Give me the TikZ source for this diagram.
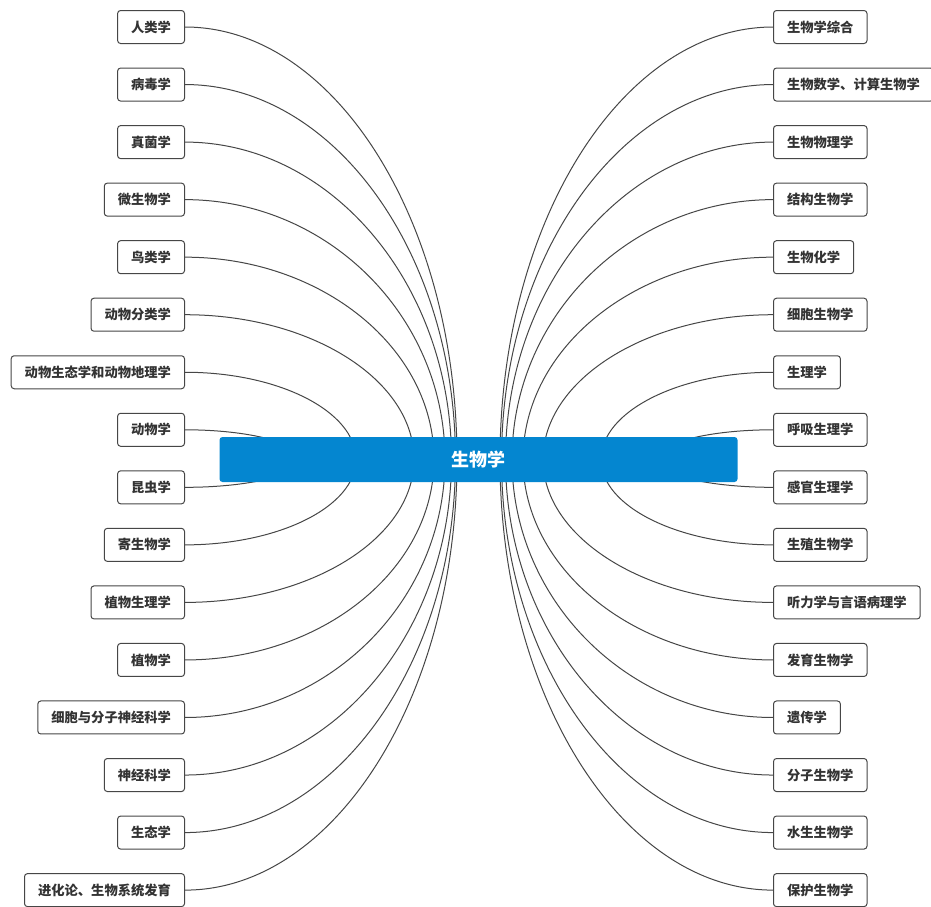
\documentclass[tikz,border=0pt]{standalone}
\usepackage{fontspec}
\setmainfont{Noto Sans CJK SC}
\usetikzlibrary{backgrounds}
\definecolor{rootblue}{RGB}{4,134,208}
\definecolor{linegray}{RGB}{70,70,70}
\definecolor{textgray}{RGB}{51,51,51}
\tikzset{
  topic/.style={draw=linegray,line width=1pt,rounded corners=3pt,fill=white,
    minimum height=33pt,inner xsep=13.5pt,inner ysep=0pt,text=textgray,
    font=\fontsize{13.3}{16}\selectfont\bfseries},
  root/.style={fill=rootblue,rounded corners=3pt,minimum width=518pt,
    minimum height=45pt,text=white,font=\fontsize{18}{22}\selectfont\bfseries},
  link/.style={draw=linegray,line width=1pt}
}
\begin{document}
\begin{tikzpicture}[x=1pt,y=-1pt]
\useasboundingbox (0,0) rectangle (931,906);
\node[root](bio) at (478.5,459.5){生物学};
% left topics
\foreach \t [count=\i] in {人类学,病毒学,真菌学,微生物学,鸟类学,动物分类学,动物生态学和动物地理学,动物学,昆虫学,寄生物学,植物生理学,植物学,细胞与分子神经科学,神经科学,生态学,进化论、生物系统发育}
  \node[topic,anchor=east](L\i) at (185,{27+57.54*(\i-1)}){\t};
% right topics
\foreach \t [count=\i] in {生物学综合,生物数学、计算生物学,生物物理学,结构生物学,生物化学,细胞生物学,生理学,呼吸生理学,感官生理学,生殖生物学,听力学与言语病理学,发育生物学,遗传学,分子生物学,水生生物学,保护生物学}
  \node[topic,anchor=west](R\i) at (773,{27+57.54*(\i-1)}){\t};
\begin{scope}[on background layer]
\foreach \i/\xe in {1/457,2/455.5,3/451.5,4/445,5/434,6/414,7/356,8/301,9/301,10/356,11/414,12/434,13/445,14/451.5,15/455.5,16/457}{
  \pgfmathsetmacro\yc{27+57.54*(\i-1)}
  \pgfmathsetmacro\xr{957-\xe}
  \coordinate(le\i) at (\xe,459.5);
  \coordinate(re\i) at (\xr,459.5);
  \draw[link](L\i.east) .. controls +({0.55*(\xe-185)},0) and +(0,{-0.55*(459.5-\yc)}) .. (le\i);
  \draw[link](R\i.west) .. controls +({0.55*(\xr-773)},0) and +(0,{-0.55*(459.5-\yc)}) .. (re\i);
}
\end{scope}
\end{tikzpicture}
\end{document}
